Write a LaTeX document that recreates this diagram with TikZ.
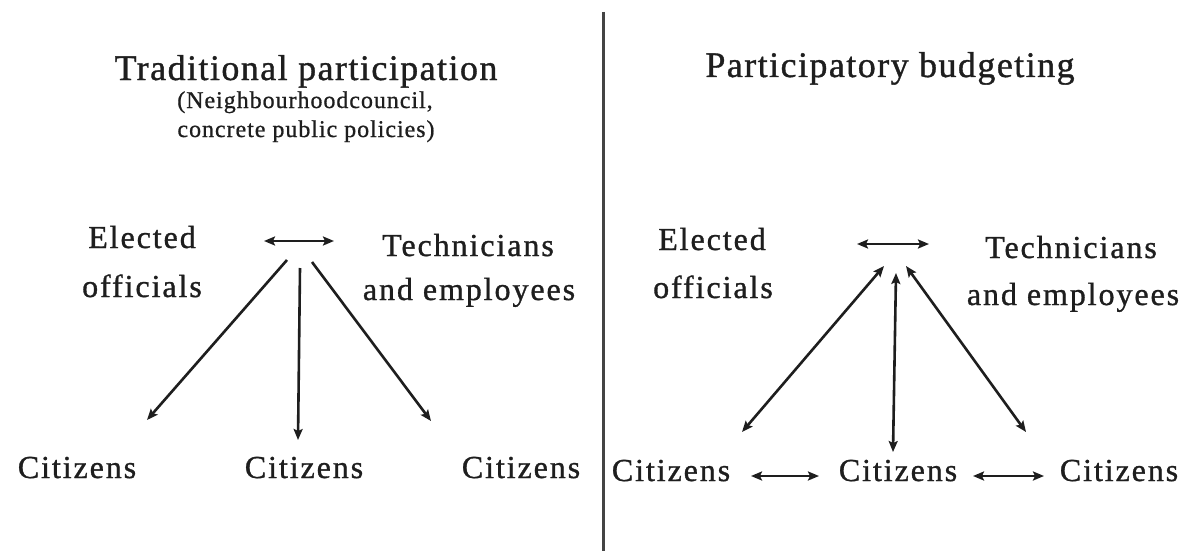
\documentclass[tikz,border=0pt]{standalone}
\usepackage{fontspec}
\setmainfont{Liberation Serif}
\newfontfamily\bodyfont[LetterSpace=6,FakeBold=1]{Liberation Serif}
\newfontfamily\titlefont[LetterSpace=4,FakeBold=1]{Liberation Serif}
\newfontfamily\subfont[LetterSpace=4,FakeBold=0.8]{Liberation Serif}
\usetikzlibrary{arrows.meta}
\definecolor{ink}{HTML}{1E1E1E}
\definecolor{rule}{HTML}{444444}
\begin{document}
\begin{tikzpicture}[x=1pt,y=-1pt,
  txt/.style={inner sep=0pt, anchor=base, text=ink, font=\bodyfont\fontsize{32}{38}\selectfont},
  ttl/.style={inner sep=0pt, anchor=base, text=ink, font=\titlefont\fontsize{36}{42}\selectfont},
  sub/.style={inner sep=0pt, anchor=base, text=ink, font=\subfont\fontsize{24}{28}\selectfont},
  link/.style={draw=ink, line width=2.6pt, {Stealth[length=11pt,width=9pt,inset=2pt]}-{Stealth[length=11pt,width=9pt,inset=2pt]}},
  oneway/.style={draw=ink, line width=2.6pt, -{Stealth[length=11pt,width=9pt,inset=2pt]}},
  divider/.style={draw=rule, line width=3pt}]
\useasboundingbox (0,0) rectangle (1193,551);
\fill[white] (0,0) rectangle (1193,551);

% divider
\coordinate (d1) at (603,12);
\coordinate (d2) at (603,551);
\draw[divider] (d1) -- (d2);

% ---------- left panel ----------
\node[ttl] (lt) at (306,80) {Traditional participation};
\node[sub] (ls1) at (305,108) {(Neighbourhoodcouncil,};
\node[sub] (ls2) at (306,137) {concrete public policies)};

\node[txt] (le1) at (142,248) {Elected};
\node[txt] (le2) at (142,297) {officials};
\node[txt] (lt1) at (468,256) {Technicians};
\node[txt] (lt2) at (469,300) {and employees};

\coordinate (lh1) at (264,241);
\coordinate (lh2) at (334,241);
\draw[link] (lh1) -- (lh2);

\coordinate (la1) at (287,260);
\coordinate (lb1) at (147,420);
\coordinate (la2) at (300,268);
\coordinate (lb2) at (298,440);
\coordinate (la3) at (312,262);
\coordinate (lb3) at (431,421);
\draw[oneway] (la1) -- (lb1);
\draw[oneway] (la2) -- (lb2);
\draw[oneway] (la3) -- (lb3);

\node[txt] (lc1) at (77,478) {Citizens};
\node[txt] (lc2) at (304,478) {Citizens};
\node[txt] (lc3) at (521,478) {Citizens};

% ---------- right panel ----------
\node[ttl] (rt) at (890,77) {Participatory budgeting};

\node[txt] (re1) at (712,250) {Elected};
\node[txt] (re2) at (713,298) {officials};
\node[txt] (rt1) at (1071,258) {Technicians};
\node[txt] (rt2) at (1073,305) {and employees};

\coordinate (rh1) at (857,244);
\coordinate (rh2) at (929,244);
\draw[link] (rh1) -- (rh2);

\coordinate (ra1) at (884,266);
\coordinate (rb1) at (742,432);
\coordinate (ra2) at (896,273);
\coordinate (rb2) at (893,452);
\coordinate (ra3) at (906,266);
\coordinate (rb3) at (1026,432);
\draw[link] (ra1) -- (rb1);
\draw[link] (ra2) -- (rb2);
\draw[link] (ra3) -- (rb3);

\node[txt] (rc1) at (671,481) {Citizens};
\node[txt] (rc2) at (898,481) {Citizens};
\node[txt] (rc3) at (1119,481) {Citizens};

\coordinate (rm1) at (751,476);
\coordinate (rm2) at (819,476);
\coordinate (rm3) at (973,476);
\coordinate (rm4) at (1044,476);
\draw[link] (rm1) -- (rm2);
\draw[link] (rm3) -- (rm4);
\end{tikzpicture}
\end{document}
